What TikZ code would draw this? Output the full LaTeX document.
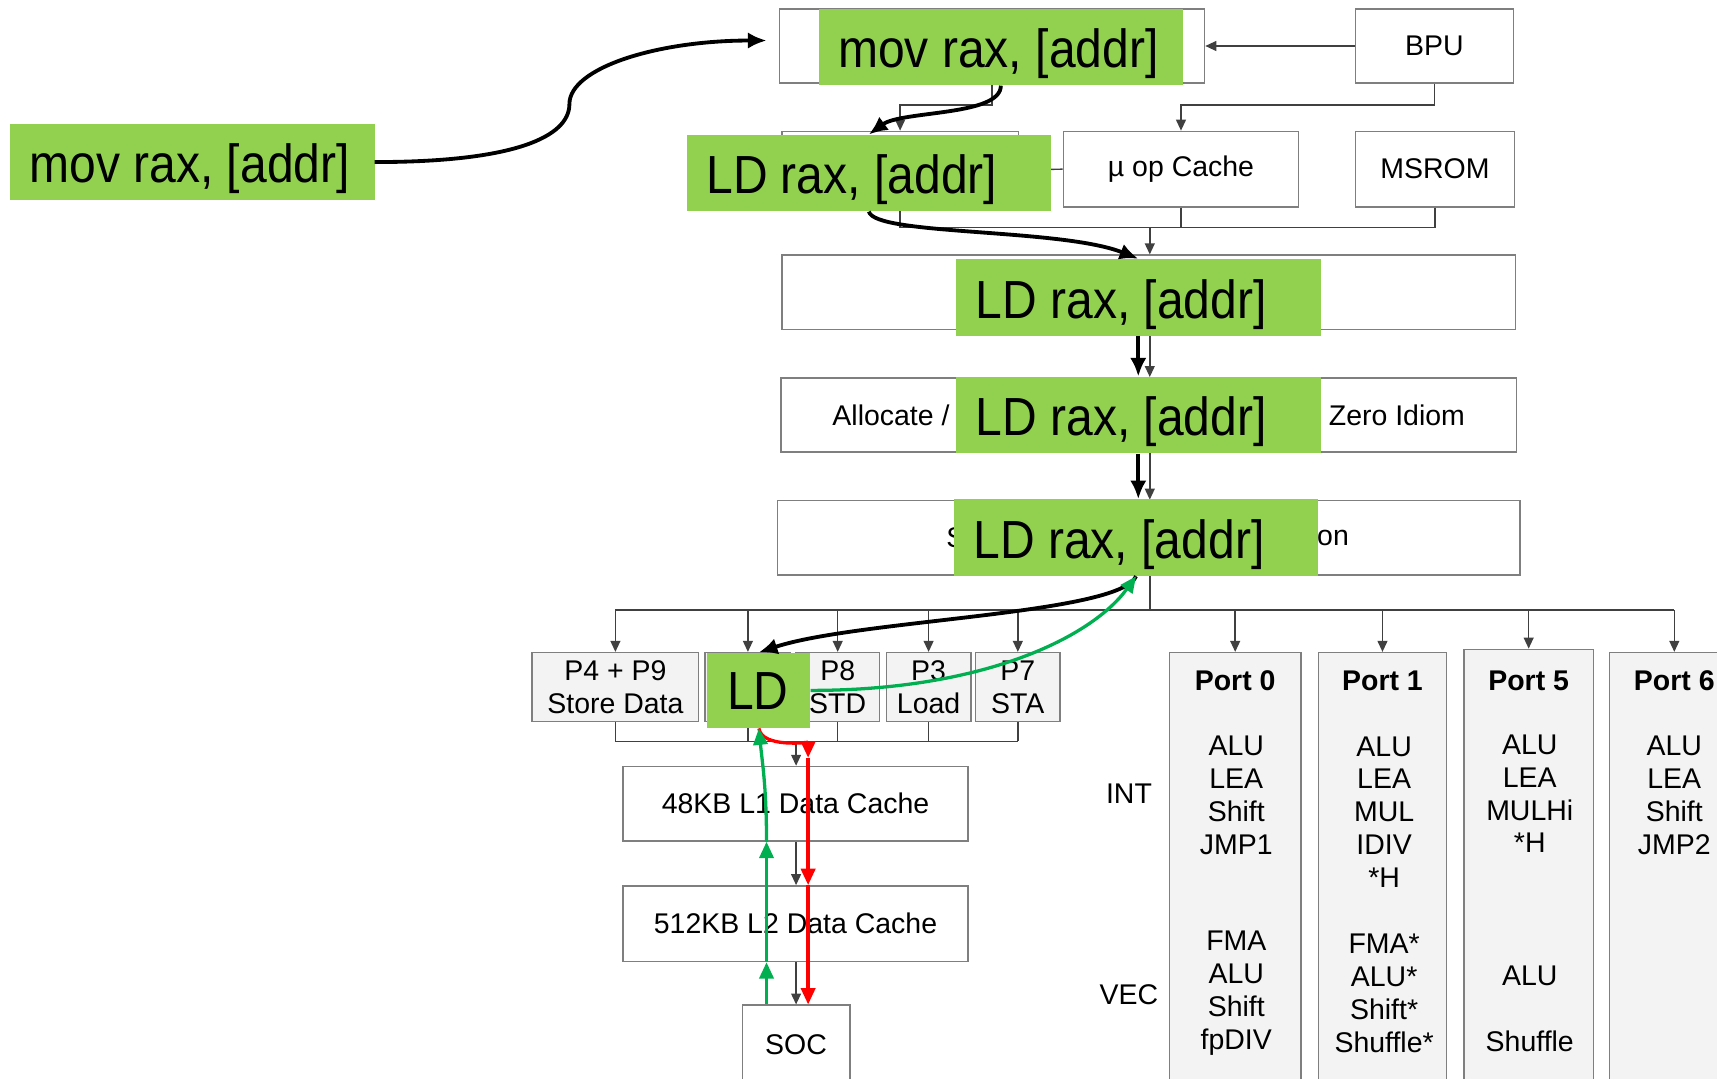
\documentclass[tikz,border=0pt]{standalone}
\usepackage{fontspec}
\setmainfont{Liberation Sans}
\newfontfamily\hlfont[FakeStretch=0.895]{Liberation Sans}
\usetikzlibrary{arrows.meta,calc}
\definecolor{hlgreen}{HTML}{92D050}
\definecolor{okgreen}{HTML}{00B050}
\definecolor{boxgray}{HTML}{7F7F7F}
\definecolor{portfill}{HTML}{F3F3F3}
\definecolor{wire}{HTML}{404040}
\newcommand\hlbox[2][297pt]{\makebox[#1][l]{#2}}

\begin{document}
\begin{tikzpicture}[x=1pt,y=-1pt,
  bx/.style={draw=boxgray,line width=1.4pt,fill=white,inner sep=0,minimum height=68pt,font=\fontsize{26}{30}\selectfont,align=center},
  pbx/.style={bx,fill=portfill},
  sp/.style={pbx,minimum width=77pt,minimum height=63pt},
  txt/.style={inner sep=0,font=\fontsize{26}{30}\selectfont,align=center},
  hd/.style={txt,font=\fontsize{26}{30}\selectfont\bfseries},
  hl/.style={fill=hlgreen,inner ysep=0,inner xsep=18pt,text height=54pt,text depth=16pt,font=\hlfont\fontsize{49}{55}\selectfont},
  wr/.style={draw=wire,line width=1.3pt},
  wra/.style={wr,-{Triangle[length=10pt,width=9pt]}},
  hop/.style={line width=3.5pt,-{Latex[length=17pt,width=15pt]}},
  goup/.style={okgreen,line width=3pt,-{Triangle[length=15pt,width=13pt]}},
  godn/.style={red,line width=3pt,-{Triangle[length=15pt,width=13pt]}}]
  \useasboundingbox (0,0) rectangle (1568,985);

  \node[bx,minimum width=388pt] (fetch) at (906,42) {};
  \node[bx,minimum width=144pt] (bpu) at (1310,42) {BPU};
  \node[bx,minimum width=216pt,minimum height=70pt] (dec) at (822,155) {};
  \node[bx,minimum width=215pt,minimum height=69pt] (uop) at (1078.5,154.5) {µ op Cache};
  \node[bx,minimum width=145pt,minimum height=69pt] (msrom) at (1310.5,154.5) {MSROM};
  \node[bx,minimum width=670pt] (idq) at (1049,267) {};
  \node[bx,minimum width=672pt] (alloc) at (1049,379) {};
  \node[bx,minimum width=678pt] (sched) at (1049,491) {};
  \node[txt,anchor=west] (alloctxt) at (760,379) {Allocate /};
  \node[txt,anchor=east] (zerotxt) at (1338,379) {/ Zero Idiom};
  \node[txt,anchor=west] (schedtxt) at (864,491) {S};
  \node[txt,anchor=east] (rstxt) at (1232,491) {on};

  \node[sp,minimum width=152pt] (p49) at (562,627.5) {P4 + P9\\Store Data};
  \node[sp,minimum width=78pt] (p2) at (683,627.5) {};
  \node[sp,minimum width=76pt] (p8) at (765,627.5) {P8\\STD};
  \node[sp] (p3) at (848,627.5) {P3\\Load};
  \node[sp] (p7) at (929.5,627.5) {P7\\STA};

  \node[bx,minimum width=315pt] (l1) at (726.5,734) {48KB L1 Data Cache};
  \node[bx,minimum width=315pt,minimum height=69pt] (l2) at (726.5,843.5) {512KB L2 Data Cache};
  \node[bx,minimum width=98pt,minimum height=72pt] (soc) at (727,954) {SOC};

  \node[pbx,minimum width=120pt,minimum height=404pt] (p0) at (1128,798) {};
  \node[pbx,minimum width=117pt,minimum height=404pt] (p1) at (1262.5,798) {};
  \node[pbx,minimum width=118pt,minimum height=407pt] (p5) at (1396,796.5) {};
  \node[pbx,minimum width=118pt,minimum height=404pt] (p6) at (1529,798) {};
  \foreach \p/\n in {p0/0,p1/1,p5/5,p6/6}
    \node[hd] (hd\p) at (\p.north |- 0,622) {Port \n};
  \node[txt] (p0int) at (1129,726.5) {ALU\\LEA\\Shift\\JMP1};
  \node[txt] (p1int) at (1264,741.5) {ALU\\LEA\\MUL\\IDIV\\*H};
  \node[txt] (p5int) at (1397,725) {ALU\\LEA\\MULHi\\*H};
  \node[txt] (p6int) at (1529,726.5) {ALU\\LEA\\Shift\\JMP2};
  \node[txt] (p0vec) at (1129,907) {FMA\\ALU\\Shift\\fpDIV};
  \node[txt] (p1vec) at (1264,907) {FMA*\\ALU*\\Shift*\\Shuffle*};
  \node[txt] (p5vec) at (1397,921.5) {ALU\\[30pt]Shuffle};
  \node[txt] (intlbl) at (1031,725) {INT};
  \node[txt] (veclbl) at (1031,908) {VEC};

  \draw[wra] (bpu.west) -- (fetch.east);
  \draw[wra] (bpu.south) -- ++(0,19) -| (uop.north);
  \draw[wra] (fetch.south) -- ++(0,19) -| (dec.north);
  \draw[wr] (dec.east) -- (uop.west);
  \coordinate (mrg) at (1050,208);
  \draw[wr] (dec.south) |- (mrg);
  \draw[wr] (uop.south) |- (mrg);
  \draw[wr] (msrom.south) |- (mrg);
  \draw[wra] (mrg) -- (mrg |- idq.north);
  \draw[wra] (idq.south -| mrg) -- (alloc.north -| mrg);
  \draw[wra] (alloc.south -| mrg) -- (sched.north -| mrg);
  \coordinate (bus) at (1050,557);
  \draw[wr] (sched.south -| bus) -- (bus);
  \draw[wr] (p49.north |- bus) -- (p6.north |- bus);
  \foreach \p in {p49,p2,p8,p3,p7,p0,p1,p5,p6}
    \draw[wra] (\p.north |- bus) -- (\p.north);
  \coordinate (lsu) at (727,677);
  \draw[wr] (p49.south |- lsu) -- (p7.south |- lsu);
  \foreach \p in {p49,p2,p8,p3,p7}
    \draw[wr] (\p.south) -- (\p.south |- lsu);
  \draw[wra] (lsu) -- (lsu |- l1.north);
  \draw[wra] (l1.south -| lsu) -- (l2.north -| lsu);
  \draw[wra] (l2.south -| lsu) -- (soc.north -| lsu);

  \node[hl] (gmov) at (175.5,148) {\hlbox{mov rax, [addr]}};
  \node[hl] (g1) at (914,43) {\hlbox{mov rax, [addr]}};
  \node[hl] (g2) at (793.5,158) {\hlbox{LD rax, [addr]}};
  \node[hl] (g3) at (1039.5,271.5) {\hlbox{LD rax, [addr]}};
  \node[hl] (g4) at (1039.5,379) {\hlbox{LD rax, [addr]}};
  \node[hl] (g5) at (1037.5,491) {\hlbox{LD rax, [addr]}};
  \node[hl,text height=52pt,text depth=17pt] (ld) at (693,630.5) {\hlbox[58pt]{LD}};

  \coordinate (fin) at (700,37);
  \draw[hop] (gmov.east) .. controls (470,148) and (520,125) .. (520,95) .. controls (520,62) and (600,37) .. (fin);
  \draw[hop] (g1.south) .. controls +(0,28) and +(30,-22) .. (g2.north);
  \draw[hop] (g2.south) .. controls +(5,22) and +(-70,-28) .. (g3.north);
  \draw[hop] (g3.south) -- (g4.north);
  \draw[hop] (g4.south) -- (g5.north -| g4.south);
  \draw[hop] (g5.south) .. controls +(-15,35) and +(90,-30) .. (ld.north);
  \draw[goup] (ld.east) .. controls +(160,0) and +(-40,55) .. (g5.south);

  \coordinate (dn) at (738,692);
  \draw[godn] (ld.south) .. controls +(3,18) and +(0,-14) .. (dn);
  \draw[godn] (dn) -- (dn |- l2.north);
  \draw[godn] (dn |- l2.north) -- (dn |- soc.north);
  \coordinate (up) at (700,918);
  \draw[goup] (soc.north -| up) -- (l2.south -| up);
  \draw[goup] (l2.south -| up) -- (l1.south -| up);
  \draw[goup] (l1.south -| up) .. controls +(0,-50) and +(3,30) .. (ld.south);
\end{tikzpicture}
\end{document}
